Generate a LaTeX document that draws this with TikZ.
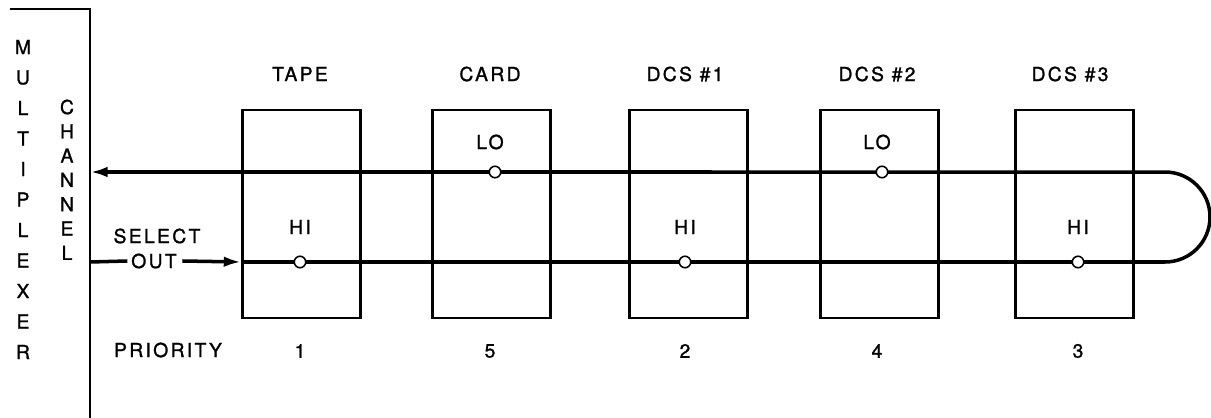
\documentclass[tikz,border=0pt]{standalone}
\usepackage{fontspec}
\setmainfont{TeX Gyre Heros}[LetterSpace=12,FakeBold=1.2]
\usetikzlibrary{arrows.meta}

\tikzset{
  unit/.style={draw, line width=1.3pt, minimum width=2.36cm, minimum height=4.16cm, inner sep=0pt},
  tap/.style={circle, draw, fill=white, line width=0.9pt, minimum size=0.23cm, inner sep=0pt},
  bus/.style={line width=2pt},
  tip/.style={-{Latex[length=10pt,width=6pt]}},
  lbl/.style={inner sep=0pt}
}

\begin{document}
\begin{tikzpicture}[x=0.02cm,y=-0.02cm,font=\fontsize{11}{13}\selectfont]
	\useasboundingbox (0,0) rectangle (1211,418);
	% multiplexer channel
	\draw[line width=1.3pt] (10,9) -- (90,9) -- (90,418);
	\foreach \l [count=\i] in {M,U,L,T,I,P,L,E,X,E,R}
		\node[lbl] (mpx\i) at (23,{47+30.5*(\i-1)}) {\l};
	\foreach \l [count=\i] in {C,H,A,N,N,E,L}
		\node[lbl] (chn\i) at (67,{107+24.3*(\i-1)}) {\l};
	\coordinate (mpxA) at (90,172);
	\coordinate (mpxB) at (90,262);
	\coordinate (loopA) at (1165,172);
	\coordinate (loopB) at (1165,262);
	% units
	\node[unit] (tape) at (301.5,214) {};
	\node[unit] (card) at (491.5,214) {};
	\node[unit] (dcsA) at (688.5,214) {};
	\node[unit] (dcsB) at (879.5,214) {};
	\node[unit] (dcsC) at (1074.5,214) {};
	\node[lbl] (tapeT) at (300,74) {TAPE};
	\node[lbl] (cardT) at (490,74) {CARD};
	\node[lbl] (dcsAT) at (685,74) {DCS \#1};
	\node[lbl] (dcsBT) at (877,74) {DCS \#2};
	\node[lbl] (dcsCT) at (1070,74) {DCS \#3};
	% select out
	\node[lbl] (sel) at (157,236) {SELECT};
	\node[lbl] (out) at (154,261) {OUT};
	\draw[bus] (mpxB) -- ([xshift=-2pt]out.west);
	\draw[bus,tip] ([xshift=3pt]out.east) -- (tape.west |- mpxB);
	\draw[bus,tip] (tape.west |- mpxB) -- (loopB) arc[start angle=-90, end angle=90, radius=0.9cm] -- (mpxA);
	% priority taps
	\node[tap] (tapeP) at (300,262) {};
	\node[tap] (cardP) at (495,172) {};
	\node[tap] (dcsAP) at (685,262) {};
	\node[tap] (dcsBP) at (882,172) {};
	\node[tap] (dcsCP) at (1078,262) {};
	\node[lbl] at (300,227) {HI};
	\node[lbl] at (490,142) {LO};
	\node[lbl] at (685,227) {HI};
	\node[lbl] at (877,142) {LO};
	\node[lbl] at (1078,227) {HI};
	% priority row
	\node[lbl] (prio) at (168,350) {PRIORITY};
	\node[lbl] at (300,351) {1};
	\node[lbl] at (490,351) {5};
	\node[lbl] at (685,351) {2};
	\node[lbl] at (877,351) {4};
	\node[lbl] at (1078,351) {3};
\end{tikzpicture}
\end{document}
